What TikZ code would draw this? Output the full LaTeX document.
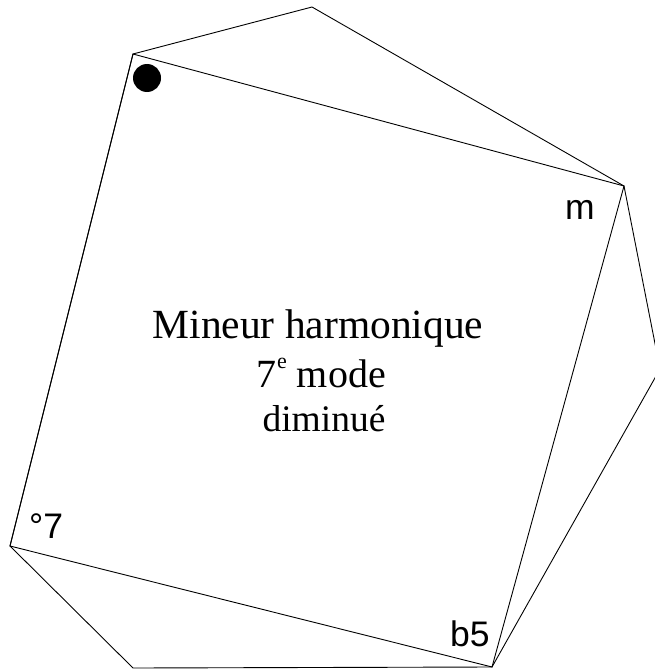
\documentclass[tikz,border=0pt]{standalone}
\usepackage{fontspec}
\setmainfont{Liberation Serif}
\newfontfamily\labfont{Liberation Sans}
\begin{document}
\begin{tikzpicture}[x=1pt,y=-1pt,
  edge/.style={draw=black,line width=0.9pt,line join=miter},
  lab/.style={inner sep=0pt,anchor=base west,font=\labfont\fontsize{35.5}{40}\selectfont},
  title/.style={inner sep=0pt,anchor=base,font=\fontsize{41.5}{44}\selectfont}]
\useasboundingbox (0,0) rectangle (655,669);
\clip (0,0) rectangle (655,669);
\coordinate (A) at (133,54);
\coordinate (T) at (312,7);
\coordinate (B) at (624,186);
\coordinate (R) at (660,369);
\coordinate (C) at (492,667);
\coordinate (L) at (133,668);
\coordinate (D) at (10,546);
\draw[edge] (A) -- (T) -- (B) -- (R) -- (C) -- (L) -- (D) -- cycle;
\draw[edge] (A) -- (B) -- (C) -- (D) -- cycle;
\fill[black] (147,78) circle (14);
\node[lab] (m) at (565,219) {m};
\node[lab] (b5) at (450,646) {b5};
\node[lab] (s7) at (29,538) {°7};
\node[title] (t1) at (318,338) {Mineur harmonique};
\node[title,font=\fontsize{40}{44}\selectfont] (t2) at (321,387) {7\kern1pt\raisebox{19pt}{\fontsize{22}{24}\selectfont e} mode};
\node[title,font=\fontsize{37.5}{40}\selectfont] (t3) at (324,431) {diminué};
\end{tikzpicture}
\end{document}
